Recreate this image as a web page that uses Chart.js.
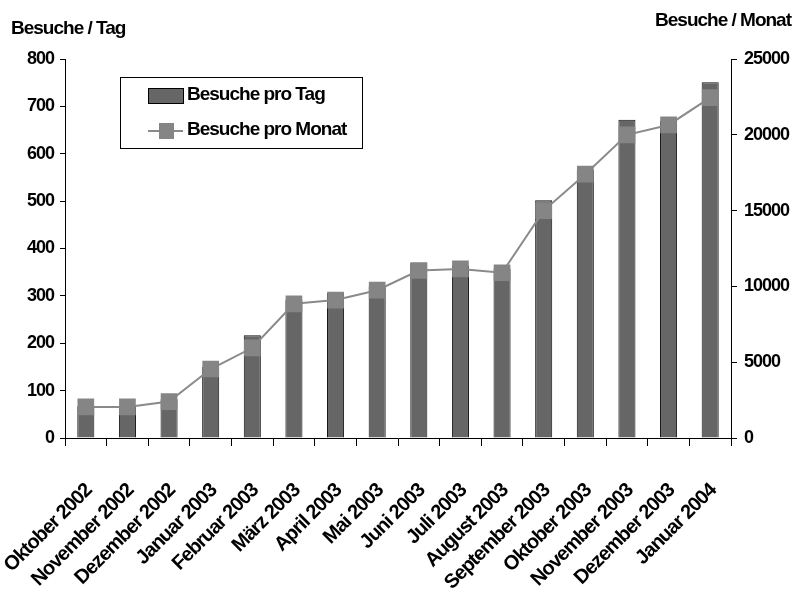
<!DOCTYPE html>
<html>
<head>
<meta charset="utf-8">
<script src="https://cdn.jsdelivr.net/npm/chart.js@4"></script>
<style>
  html, body { margin: 0; padding: 0; background: #fff; }
  #wrap { width: 792px; height: 595px; }
</style>
</head>
<body>
<div id="wrap"><canvas id="visits" width="792" height="595"></canvas></div>
<script>
// Monate (Kategorien)
const months = ['Oktober 2002', 'November 2002', 'Dezember 2002', 'Januar 2003', 'Februar 2003',
  'März 2003', 'April 2003', 'Mai 2003', 'Juni 2003', 'Juli 2003', 'August 2003',
  'September 2003', 'Oktober 2003', 'November 2003', 'Dezember 2003', 'Januar 2004'];

// Besuche pro Tag (linke Achse)
const perDay = [67, 67, 82, 150, 217, 292, 306, 320, 370, 364, 357, 502, 567, 672, 669, 751];

// Besuche pro Monat (rechte Achse)
const perMonth = [2050, 2050, 2400, 4550, 5950, 8850, 9100, 9750, 11050, 11150, 10900, 15000, 17400, 20000, 20650, 22450];

const dayTicks = [0, 800, 100];      // min, max, step
const monthTicks = [0, 25000, 5000];

const fontFamily = "'Liberation Sans', Arial, sans-serif";
const tickFont = { family: fontFamily, size: 18, weight: 'bold' };
const labelFont = { family: fontFamily, size: 20, weight: 'bold' };

// schmale Schrift wie im Original
const narrowText = {
  id: 'narrowText',
  beforeUpdate(chart) { chart.ctx.letterSpacing = '-1px'; },
  beforeDraw(chart) { chart.ctx.letterSpacing = '-1px'; }
};

// Achsentitel und Legende
const extras = {
  id: 'extras',
  afterDraw(chart) {
    const ctx = chart.ctx;
    ctx.save();
    ctx.letterSpacing = '-1px';
    ctx.fillStyle = '#000';
    ctx.font = 'bold 19px ' + fontFamily;
    ctx.textBaseline = 'alphabetic';
    ctx.textAlign = 'left';
    ctx.fillText('Besuche / Tag', 11, 34);
    ctx.textAlign = 'right';
    ctx.fillText('Besuche / Monat', 791, 26);

    // Legende
    const bar = chart.data.datasets[0];
    const line = chart.data.datasets[1];
    ctx.lineWidth = 1;
    ctx.strokeStyle = '#000';
    ctx.strokeRect(120.5, 77.5, 242, 71);

    ctx.fillStyle = bar.backgroundColor;
    ctx.fillRect(148, 88, 35, 15);
    ctx.strokeRect(148.5, 88.5, 35, 15);

    ctx.strokeStyle = line.borderColor;
    ctx.lineWidth = 2;
    ctx.beginPath();
    ctx.moveTo(148, 131);
    ctx.lineTo(183, 131);
    ctx.stroke();
    ctx.fillStyle = line.pointBackgroundColor;
    ctx.fillRect(159, 123, 15, 16);

    ctx.fillStyle = '#000';
    ctx.textAlign = 'left';
    ctx.fillText(bar.label, 187, 100);
    ctx.fillText(line.label, 187, 135);
    ctx.restore();
  }
};

const ctx = document.getElementById('visits').getContext('2d');

new Chart(ctx, {
  type: 'bar',
  data: {
    labels: months,
    datasets: [{
      label: 'Besuche pro Tag',
      data: perDay,
      yAxisID: 'y',
      backgroundColor: '#666666',
      borderColor: '#111111',
      borderWidth: 1,
      barPercentage: 0.82,
      categoryPercentage: 0.5,
      order: 1
    }, {
      type: 'line',
      label: 'Besuche pro Monat',
      data: perMonth,
      yAxisID: 'y1',
      borderColor: '#8a8a8a',
      borderWidth: 2,
      pointStyle: 'rect',
      pointRadius: 11.8,
      pointBackgroundColor: '#858585',
      pointBorderWidth: 0,
      tension: 0,
      order: 0
    }]
  },
  options: {
    responsive: false,
    animation: false,
    devicePixelRatio: 1,
    layout: { padding: { top: 59, left: 0, right: 0, bottom: 0 } },
    plugins: {
      legend: { display: false },
      tooltip: { enabled: false },
      title: { display: false }
    },
    scales: {
      x: {
        offset: true,
        grid: { offset: true, drawOnChartArea: false, tickLength: 8, color: '#000' },
        border: { display: true, color: '#000', width: 1 },
        ticks: {
          font: labelFont, color: '#000',
          minRotation: 45, maxRotation: 45,
          autoSkip: false, padding: 33, labelOffset: 3
        },
        afterFit(scale) {
          scale.height = 157;
          scale.paddingLeft = 0;
          scale.paddingRight = 0;
        }
      },
      y: {
        position: 'left',
        min: dayTicks[0], max: dayTicks[1],
        grid: { drawOnChartArea: false, tickLength: 5, color: '#000' },
        border: { display: true, color: '#000', width: 1 },
        ticks: { stepSize: dayTicks[2], font: tickFont, color: '#000', padding: 6 },
        afterFit(scale) { scale.width = 65; }
      },
      y1: {
        position: 'right',
        min: monthTicks[0], max: monthTicks[1],
        grid: { drawOnChartArea: false, tickLength: 6, color: '#000' },
        border: { display: true, color: '#000', width: 1 },
        ticks: {
          stepSize: monthTicks[2], font: tickFont, color: '#000', padding: 7,
          callback: (v) => String(v)
        },
        afterFit(scale) { scale.width = 61; }
      }
    }
  },
  plugins: [narrowText, extras]
});
</script>
</body>
</html>
